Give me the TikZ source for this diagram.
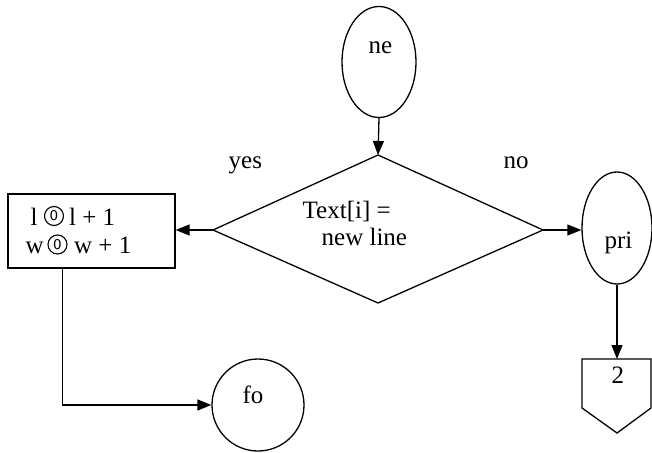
\documentclass[tikz,border=0pt]{standalone}
\usepackage{fontspec}
\setmainfont{Liberation Serif}
\newfontfamily\symfont{DejaVu Sans}
\usetikzlibrary{arrows.meta,shapes.geometric}
\begin{document}
\begin{tikzpicture}[x=1pt,y=-1pt,
  line width=1.3pt,
  arr/.style={-{Triangle[length=14pt,width=11pt]}},
  txt/.style={anchor=base west,inner sep=0pt,font=\fontsize{25}{29}\selectfont},
  czero/.style={circle,draw,line width=1.1pt,minimum size=19pt,inner sep=0pt,font=\symfont\fontsize{13.5}{13.5}\selectfont},
  shp/.style={draw,inner sep=0pt}]
\useasboundingbox (0,0) rectangle (652,452);
% shapes
\node[shp,ellipse,minimum width=74pt,minimum height=111pt] (ne) at (379,62) {};
\node[shp,ellipse,minimum width=70pt,minimum height=112pt] (pri) at (617,228) {};
\node[shp,circle,minimum size=92pt] (fo) at (258,405) {};
\node[shp,rectangle,minimum width=167pt,minimum height=74pt] (box) at (91.5,231) {};
\coordinate (dT) at (378,155);
\coordinate (dL) at (213,230);
\coordinate (dR) at (543,230);
\coordinate (dB) at (378,303);
\draw (dT) -- (dR) -- (dB) -- (dL) -- cycle;
\coordinate (pT) at (617,359);
\coordinate (pL) at (582,359);
\coordinate (pR) at (651,359);
\coordinate (pRB) at (651,408);
\coordinate (pB) at (617,433);
\coordinate (pLB) at (582,408);
\draw (pT) -- (pR) -- (pRB) -- (pB) -- (pLB) -- (pL) -- cycle;
% texts
\node[txt] (tne) at (368,53) {ne};
\node[txt] (tpri) at (604,248) {pri};
\node[txt] (tfo) at (242,403) {fo};
\node[txt] (t2) at (611,383) {2};
\node[txt] (tq1) at (302,218) {Text[i] =};
\node[txt] (tq2) at (321,245) {new line};
\node[txt] (tb1a) at (30,225) {l};
\node[czero] (cz1) at (54,216) {0};
\node[txt] (tb1b) at (68.5,225) {l + 1};
\node[txt] (tb2a) at (25,253) {w};
\node[czero] (cz2) at (57.5,244.5) {0};
\node[txt] (tb2b) at (73.5,253) {w + 1};
\node[txt] (tyes) at (228,168) {yes};
\node[txt] (tno) at (503,168) {no};
% connectors
\draw[arr] (ne.south) -- (dT);
\draw[arr] (dL) -- (box.east |- dL);
\draw[arr] (dR) -- (pri.west |- dR);
\draw[arr] (pri.south) -- (pT);
\draw[arr] ([xshift=55pt]box.south west) |- (fo.west);
\end{tikzpicture}
\end{document}
